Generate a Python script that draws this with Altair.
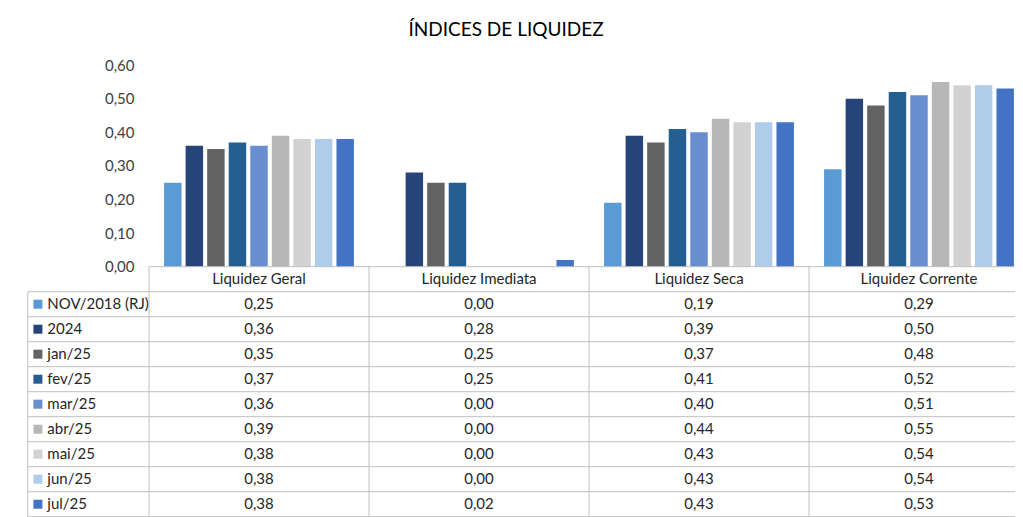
import altair as alt
import pandas as pd

# ---------------- data ----------------
categorias = ["Liquidez Geral", "Liquidez Imediata", "Liquidez Seca", "Liquidez Corrente"]
series = ["NOV/2018 (RJ)", "2024", "jan/25", "fev/25", "mar/25", "abr/25", "mai/25", "jun/25", "jul/25"]

nov2018 = [0.25, 0.00, 0.19, 0.29]
ano2024 = [0.36, 0.28, 0.39, 0.50]
jan25 = [0.35, 0.25, 0.37, 0.48]
fev25 = [0.37, 0.25, 0.41, 0.52]
mar25 = [0.36, 0.00, 0.40, 0.51]
abr25 = [0.39, 0.00, 0.44, 0.55]
mai25 = [0.38, 0.00, 0.43, 0.54]
jun25 = [0.38, 0.00, 0.43, 0.54]
jul25 = [0.38, 0.02, 0.43, 0.53]
valores = [nov2018, ano2024, jan25, fev25, mar25, abr25, mai25, jun25, jul25]

cores = ["#5B9BD5", "#264478", "#636363", "#255E91", "#698ED0",
         "#B7B7B7", "#D2D2D2", "#AFCDEB", "#4472C4"]
y_ticks = [0.0, 0.1, 0.2, 0.3, 0.4, 0.5, 0.6]
titulo = "ÍNDICES DE LIQUIDEZ"

# ---------------- layout constants ----------------
FONT = "Lato"
PAD_L, PAD_T = 141, 40
PLOT_W, PLOT_H = 866, 469
COL_PX = 220.0          # width of one category column
ROW_PX = 25.0           # height of one table row
ZERO_PX = 218.7         # y=0 line, from plot top
UNIT_PX = 336.0         # pixels per 1.0 of value
LEG_X = -121.2 / COL_PX  # left edge of legend column (column units)

y_dom = [-(PLOT_H - ZERO_PX) / UNIT_PX, ZERO_PX / UNIT_PX]
row_dom = [-ZERO_PX / ROW_PX, (PLOT_H - ZERO_PX) / ROW_PX]
col_dom = [0, PLOT_W / COL_PX]

rows = []
for si, (s, vals) in enumerate(zip(series, valores)):
    for ci, (c, v) in enumerate(zip(categorias, vals)):
        rows.append({"serie": s, "indice": c, "valor": v, "si": si, "ci": ci,
                     "rotulo": f"{v:.2f}".replace(".", ",")})
df = pd.DataFrame(rows)

ser_df = pd.DataFrame({"serie": series, "si": list(range(len(series)))})
cat_df = pd.DataFrame({"indice": categorias, "ci": list(range(len(categorias)))})

nrows = len(series) + 1
hlines = pd.DataFrame(
    [{"x": 0, "x2": len(categorias), "y": 0}] +
    [{"x": LEG_X, "x2": len(categorias), "y": r} for r in range(1, nrows + 1)]
)
vlines = pd.DataFrame(
    [{"x": LEG_X, "y": 1, "y2": nrows + 0.5}] +
    [{"x": c, "y": 0, "y2": nrows + 0.5} for c in range(len(categorias) + 1)]
)

colx = alt.Scale(domain=col_dom, nice=False, zero=False)
rowy = alt.Scale(domain=row_dom, nice=False, zero=False, reverse=True)
color_scale = alt.Scale(domain=series, range=cores)
GRID = "#BFBFBF"
TXT = "#262626"

# ---------------- bars ----------------
bars = alt.Chart(df).mark_bar().encode(
    x=alt.X("indice:N", sort=categorias,
            scale=alt.Scale(domain=categorias, range=[0, COL_PX * len(categorias)],
                            paddingInner=0, paddingOuter=0),
            axis=None),
    xOffset=alt.XOffset("serie:N", sort=series,
                        scale=alt.Scale(domain=series, paddingInner=0.19, paddingOuter=0.70)),
    y=alt.Y("valor:Q", scale=alt.Scale(domain=y_dom, nice=False, zero=False),
            axis=alt.Axis(values=y_ticks, title=None, domain=False, ticks=False, grid=False,
                          labelExpr="replace(format(datum.value, '.2f'), '.', ',')",
                          labelFont=FONT, labelFontSize=15, labelColor="#404040",
                          labelPadding=15)),
    y2=alt.datum(0),
    color=alt.Color("serie:N", scale=color_scale, legend=None),
)

# ---------------- table ----------------
h_rules = alt.Chart(hlines).mark_rule(color=GRID, strokeWidth=1).encode(
    x=alt.X("x:Q", scale=colx, axis=None), x2="x2:Q",
    y=alt.Y("y:Q", scale=rowy, axis=None),
)
v_rules = alt.Chart(vlines).mark_rule(color=GRID, strokeWidth=1).encode(
    x=alt.X("x:Q", scale=colx, axis=None),
    y=alt.Y("y:Q", scale=rowy, axis=None), y2="y2:Q",
)
header = alt.Chart(cat_df).transform_calculate(
    cx="datum.ci + 0.5", cy="0.5"
).mark_text(font=FONT, fontSize=15, color=TXT, baseline="middle", align="center").encode(
    x=alt.X("cx:Q", scale=colx, axis=None),
    y=alt.Y("cy:Q", scale=rowy, axis=None),
    text="indice:N",
)
cells = alt.Chart(df).transform_calculate(
    cx="datum.ci + 0.5", cy="datum.si + 1.5"
).mark_text(font=FONT, fontSize=15, color=TXT, baseline="middle", align="center").encode(
    x=alt.X("cx:Q", scale=colx, axis=None),
    y=alt.Y("cy:Q", scale=rowy, axis=None),
    text="rotulo:N",
)
keys = alt.Chart(ser_df).transform_calculate(
    cx=f"{LEG_X + 10.1 / COL_PX}", cy="datum.si + 1.5"
).mark_square(size=81, opacity=1).encode(
    x=alt.X("cx:Q", scale=colx, axis=None),
    y=alt.Y("cy:Q", scale=rowy, axis=None),
    color=alt.Color("serie:N", scale=color_scale, legend=None),
)
key_labels = alt.Chart(ser_df).transform_calculate(
    cx=f"{LEG_X + 19.5 / COL_PX}", cy="datum.si + 1.5"
).mark_text(font=FONT, fontSize=15, color=TXT, baseline="middle", align="left").encode(
    x=alt.X("cx:Q", scale=colx, axis=None),
    y=alt.Y("cy:Q", scale=rowy, axis=None),
    text="serie:N",
)

chart = alt.layer(
    bars, h_rules, v_rules, header, cells, keys, key_labels
).resolve_scale(
    x="independent", y="independent", color="shared"
).properties(
    width=PLOT_W, height=PLOT_H,
    padding={"left": PAD_L, "top": PAD_T, "right": 0, "bottom": 0},
    autosize=alt.AutoSizeParams(type="none"),
    background="white",
    title=alt.TitleParams(titulo, font=FONT, fontSize=19, fontWeight="normal",
                          color="#000000", anchor="middle", dx=-76, dy=22, offset=15,
                          baseline="alphabetic"),
).configure_view(stroke=None)

chart.save("out.html", embed_options={"renderer": "svg", "actions": False})
